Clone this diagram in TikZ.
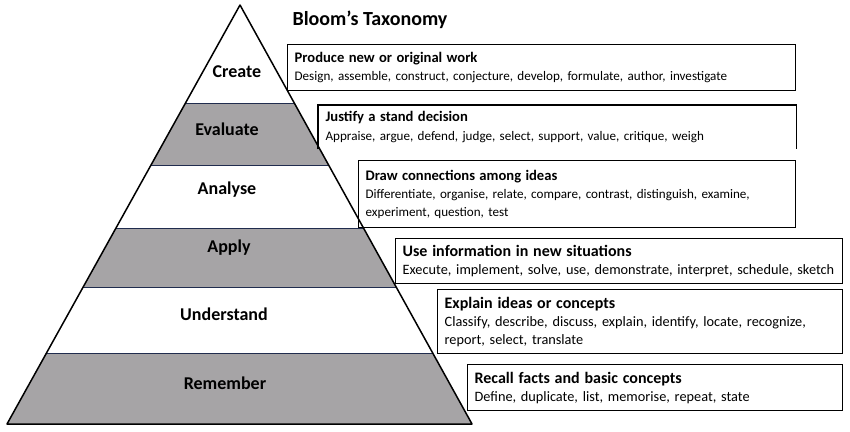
\documentclass[tikz,border=0pt]{standalone}
\usepackage{fontspec}
\setmainfont{Carlito}
\usetikzlibrary{positioning}
\definecolor{bandgray}{RGB}{166,164,166}
\definecolor{bandline}{RGB}{32,44,78}
\newcommand{\bloomhead}[2][14.6]{{\bfseries\fontsize{#1}{18}\selectfont #2}}
\tikzset{
  levellabel/.style={font=\bfseries\fontsize{18}{20}\selectfont},
  infobox/.style={anchor=north west, align=left, inner xsep=7pt, inner ysep=0pt,
    line width=1.3pt, font=\fontsize{13.1}{17.5}\selectfont},
  bigbox/.style={infobox, draw, font=\fontsize{14.3}{18}\selectfont},
}

\begin{document}
\begin{tikzpicture}[x=1pt, y=-1pt]
      \useasboundingbox (0,0) rectangle (850,431);
      \coordinate (apex) at (240,5);
      \coordinate (baseleft) at (7,424);
      \coordinate (baseright) at (472,424);

      % bands of the pyramid
      \begin{scope}
        \clip (apex) -- (baseleft) -- (baseright) -- cycle;
        \fill[bandgray] (0,103) rectangle (480,165);
        \fill[bandgray] (0,228) rectangle (480,287);
        \fill[bandgray] (0,353) rectangle (480,424);
        \foreach \y in {103,165,228,287,353}
          \draw[bandline, line width=0.9pt] (0,\y) -- (480,\y);
      \end{scope}
      \draw[line width=1.5pt, line join=round] (apex) -- (baseleft) -- (baseright) -- cycle;

      \node[levellabel] (create) at (237,72) {Create};
      \node[levellabel] (evaluate) at (227,129) {Evaluate};
      \node[levellabel] (analyse) at (227,190) {Analyse};
      \node[levellabel] (apply) at (229,248) {Apply};
      \node[levellabel] (understand) at (224,314) {Understand};
      \node[levellabel] (remember) at (225,383) {Remember};

      \node[font=\bfseries\fontsize{20}{23}\selectfont] (title) at (370,20) {Bloom’s Taxonomy};

      % description boxes
      \node[infobox, draw, minimum width=508pt, minimum height=46pt, text width=494pt]
        (createbox) at (287,44)
        {\bloomhead{Produce new or original work}\\[1pt]
         Design, assemble, construct, conjecture, develop, formulate, author, investigate};
      \node[infobox, minimum width=477pt, minimum height=43pt, text width=463pt]
        (evaluatebox) at (318,105)
        {\bloomhead{Justify a stand decision}\\[1pt]
         Appraise, argue, defend, judge, select, support, value, critique, weigh};
      \draw[line width=1.3pt] (evaluatebox.south west) -- (evaluatebox.north west)
        -- (evaluatebox.north east) -- (evaluatebox.south east);
      \node[infobox, draw, minimum width=437pt, minimum height=67pt, text width=423pt]
        (analysebox) at (358,160)
        {\bloomhead{Draw connections among ideas}\\[1pt]
         Differentiate, organise, relate, compare, contrast, distinguish, examine,\\
         experiment, question, test};
      \node[bigbox, minimum width=447pt, minimum height=45pt, text width=433pt]
        (applybox) at (395,238)
        {\bloomhead[16]{Use information in new situations}\\[0pt]
         Execute, implement, solve, use, demonstrate, interpret, schedule, sketch};
      \node[bigbox, minimum width=405pt, minimum height=64pt, text width=391pt]
        (understandbox) at (437,289)
        {\bloomhead[16]{Explain ideas or concepts}\\[0pt]
         Classify, describe, discuss, explain, identify, locate, recognize,\\
         report, select, translate};
      \node[bigbox, minimum width=375pt, minimum height=46pt, text width=361pt]
        (rememberbox) at (467,364)
        {\bloomhead[16]{Recall facts and basic concepts}\\[0pt]
         Define, duplicate, list, memorise, repeat, state};
    \end{tikzpicture}
\end{document}
